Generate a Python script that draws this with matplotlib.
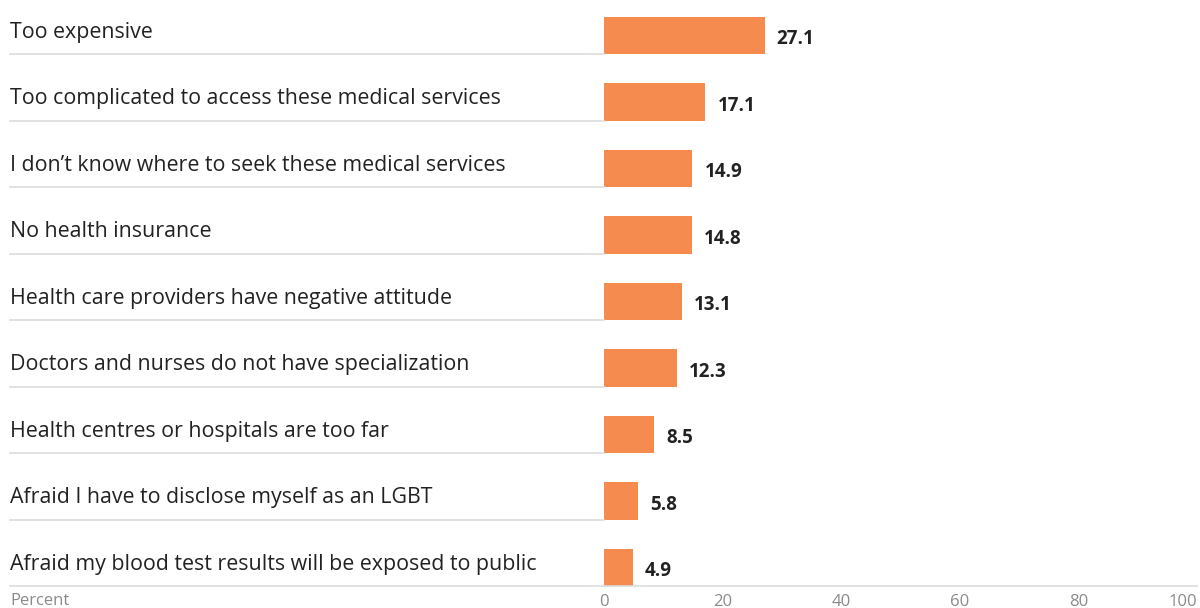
import matplotlib.pyplot as plt
from matplotlib import transforms

# reasons for not using medical services, percent of respondents
reasons = [
    'Too expensive',
    'Too complicated to access these medical services',
    'I don\u2019t know where to seek these medical services',
    'No health insurance',
    'Health care providers have negative attitude',
    'Doctors and nurses do not have specialization',
    'Health centres or hospitals are too far',
    'Afraid I have to disclose myself as an LGBT',
    'Afraid my blood test results will be exposed to public',
]
percent = [27.1, 17.1, 14.9, 14.8, 13.1, 12.3, 8.5, 5.8, 4.9]
ticks = [0, 20, 40, 60, 80, 100]

BAR = '#F58B4E'
GRID = '#DCDCDC'
TEXT = '#222222'
MUTED = '#8A8A8A'
W, H = 1200, 608

plt.rcParams['font.family'] = ['Open Sans', 'DejaVu Sans']

fig = plt.figure(figsize=(W / 100, H / 100), dpi=100)
ax = fig.add_axes([604 / W, (H - 586) / H, (1197 - 604) / W, 585 / H])

rows = range(len(reasons))
ax.barh(list(rows), percent, height=0.56, color=BAR)
ax.set_xlim(0, 100)
ax.set_ylim(len(reasons) - 1 + 0.28, -0.52)

# labels on the left and a thin rule under each of them
mix = transforms.blended_transform_factory(fig.transFigure, ax.transData)
for i, (name, val) in enumerate(zip(reasons, percent)):
    ax.text(10 / W, i + 0.035, name, transform=mix, ha='left', va='baseline',
            fontsize=15.4, color=TEXT)
    ax.plot([10 / W, 604 / W], [i + 0.28, i + 0.28], transform=mix,
            color=GRID, lw=1.2, clip_on=False)
    ax.annotate(f'{val}', (val, i + 0.13), xytext=(12, 0), textcoords='offset pixels',
                ha='left', va='baseline', fontsize=13.5, fontweight='bold', color=TEXT)

for side in ['top', 'right', 'left']:
    ax.spines[side].set_visible(False)
ax.spines['bottom'].set_color(GRID)
ax.spines['bottom'].set_linewidth(1.2)
ax.set_yticks([])
ax.set_xticks(ticks)
ax.set_xticklabels([str(t) for t in ticks], fontsize=12, color=MUTED)
ax.get_xticklabels()[-1].set_ha('right')
ax.tick_params(axis='x', length=0, pad=6)

fig.text(10 / W, 1 - 601 / H, 'Percent', ha='left', va='center', fontsize=12, color=MUTED)

fig.savefig('out.png', dpi=100)
